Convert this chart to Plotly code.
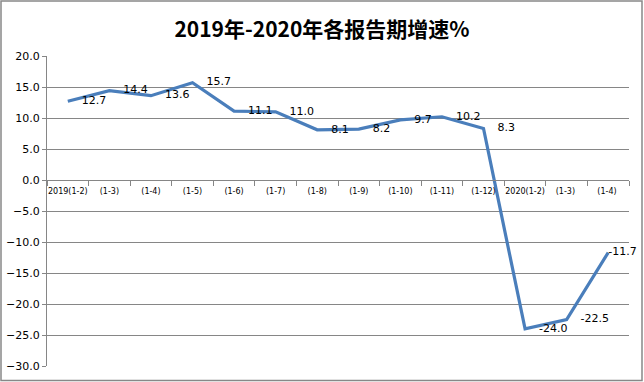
import plotly.graph_objects as go

categories = ["2019(1-2)", "(1-3)", "(1-4)", "(1-5)", "(1-6)", "(1-7)", "(1-8)",
              "(1-9)", "(1-10)", "(1-11)", "(1-12)", "2020(1-2)", "(1-3) ", "(1-4) "]
values = [12.7, 14.4, 13.6, 15.7, 11.1, 11.0, 8.1, 8.2, 9.7, 10.2, 8.3, -24.0, -22.5, -11.7]

# labels sit right of the point; the last one is pulled in to stay inside the chart
pad = "\u00a0" * 4
labels = [(pad if i < len(values) - 1 else "") + f"{v:.1f}" for i, v in enumerate(values)]

W, H = 644, 382
L, R, T, B = 47, 15, 56, 16
pw, ph = W - L - R, H - T - B

fig = go.Figure()
fig.add_trace(go.Scatter(
    x=categories, y=values, mode="lines+text",
    line=dict(color="#4A7EBB", width=3.2),
    text=labels, textposition="middle right",
    textfont=dict(family="DejaVu Sans", size=11, color="#000000"),
    cliponaxis=False, showlegend=False, hoverinfo="skip",
))

ymin, ymax = -30, 20
fig.update_layout(
    width=W, height=H,
    margin=dict(l=L, r=R, t=T, b=B, autoexpand=False),
    paper_bgcolor="white", plot_bgcolor="white",
    title=dict(text="<b>2019年-2020年各报告期增速%</b>", x=0.5, xanchor="center",
               y=1 - 29.5 / H, yanchor="middle",
               font=dict(family="Noto Sans CJK SC", size=21, color="#000000")),
    xaxis=dict(type="category", range=[-0.5, len(categories) - 0.5],
               anchor="free", position=(0 - ymin) / (ymax - ymin), automargin=False,
               tickson="boundaries", ticks="outside", ticklen=5, tickcolor="#868686",
               tickangle=0, ticklabelstandoff=3,
               showline=True, linecolor="#868686", linewidth=1, showgrid=False,
               tickfont=dict(family="DejaVu Sans", size=8, color="#000000")),
    yaxis=dict(range=[ymin, ymax], dtick=5, tickformat=".1f", automargin=False,
               showgrid=True, gridcolor="#868686", gridwidth=1,
               zeroline=False, showline=True, linecolor="#868686", linewidth=1,
               ticks="outside", ticklen=4, tickcolor="#868686",
               tickfont=dict(family="DejaVu Sans", size=11, color="#000000")),
    shapes=[dict(type="rect", xref="paper", yref="paper",
                 x0=(1 - L) / pw, x1=(642 - L) / pw,
                 y0=(H - B - 380.5) / ph, y1=(H - B - 1) / ph,
                 line=dict(color="#888888", width=1.5), fillcolor="rgba(0,0,0,0)")],
)

fig.write_html("out.html", config={"displayModeBar": False},
               post_script="document.body.style.margin='0';document.body.style.overflow='hidden';")
